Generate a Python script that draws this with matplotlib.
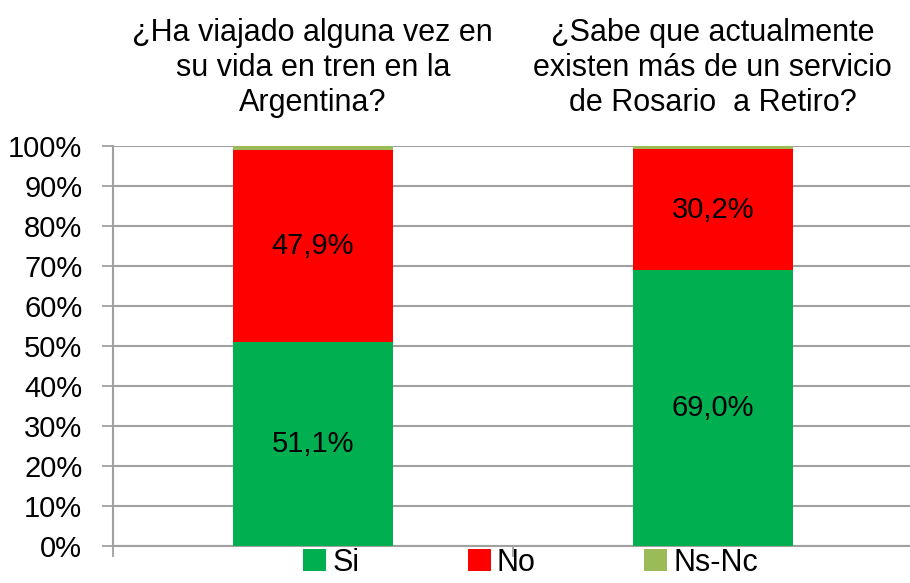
import matplotlib.pyplot as plt
from matplotlib.transforms import blended_transform_factory

preguntas = ['¿Ha viajado alguna vez en\nsu vida en tren en la\nArgentina?',
             '¿Sabe que actualmente\nexisten más de un servicio\nde Rosario  a Retiro?']
si = [51.1, 69.0]
no = [47.9, 30.2]
nsnc = [1.0, 0.8]
etiquetas_si = ['51,1%', '69,0%']
etiquetas_no = ['47,9%', '30,2%']

plt.rcParams['font.family'] = ['Liberation Sans Narrow', 'Liberation Sans', 'DejaVu Sans']

fig = plt.figure(figsize=(9.1, 5.83), dpi=100)
ax = fig.add_axes([0.124, 0.0635, 0.879, 0.686])

x = [0, 1]
w = 0.4
ax.bar(x, si, w, color='#00B050', label='Si', zorder=3)
ax.bar(x, no, w, bottom=si, color='#FF0000', label='No', zorder=3)
bot = [a + b for a, b in zip(si, no)]
ax.bar(x, nsnc, w, bottom=bot, color='#9BBB59', label='Ns-Nc', zorder=3)

for i in x:
    ax.text(i, si[i] / 2, etiquetas_si[i], ha='center', va='center', fontsize=21, zorder=4)
    ax.text(i, si[i] + no[i] / 2, etiquetas_no[i], ha='center', va='center', fontsize=21, zorder=4)

ax.set_xlim(-0.5, 1.5)
ax.set_ylim(0, 100)
ax.set_yticks(range(0, 101, 10))
ax.set_yticklabels([f'{v}%' for v in range(0, 101, 10)], fontsize=21)
ax.set_xticks([-0.5, 0.5, 1.5])
ax.set_xticklabels([])
ax.tick_params(axis='x', length=8, color='#A0A0A0', width=1.3)
ax.tick_params(axis='y', length=8, color='#A0A0A0', width=1.3, pad=14)
ax.grid(axis='y', color='#A0A0A0', linewidth=1.5, zorder=0)
for s in ['top', 'right']:
    ax.spines[s].set_visible(False)
for s in ['left', 'bottom']:
    ax.spines[s].set_color('#A0A0A0')
    ax.spines[s].set_linewidth(1.5)

tr = blended_transform_factory(ax.transData, ax.transAxes)
for i in x:
    ax.text(i, 1.07, preguntas[i], transform=tr, ha='center', va='bottom',
            fontsize=22, linespacing=1.22)

fig.legend(loc='lower center', bbox_to_anchor=(0.583, -0.038), ncol=3, frameon=False,
           fontsize=22, handlelength=0.75, handleheight=0.75, handletextpad=0.2,
           columnspacing=3.55)

fig.savefig('out.png', dpi=100)
